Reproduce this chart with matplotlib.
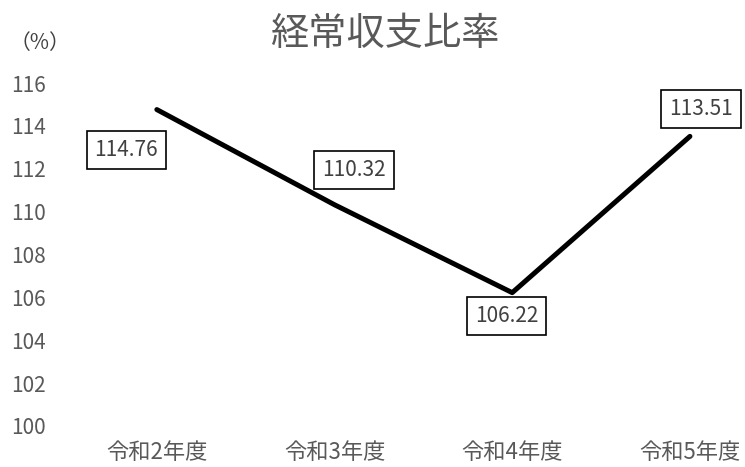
import matplotlib.pyplot as plt

plt.rcParams['font.family'] = ['Noto Sans CJK JP', 'DejaVu Sans']

# data
categories = ['令和2年度', '令和3年度', '令和4年度', '令和5年度']
ratio = [114.76, 110.32, 106.22, 113.51]
# label offsets (points) for each data label
label_offsets = [(-22, -29), (14, 25), (-4, -17), (8, 20)]

GRAY = '#595959'

fig = plt.figure(figsize=(7.45, 4.67), dpi=100)
ax = fig.add_axes([68 / 745, 41 / 467, 677 / 745, 343 / 467])

x = range(len(categories))
ax.plot(x, ratio, color='black', lw=3.6, solid_capstyle='round')

for i, v in enumerate(ratio):
    ax.annotate(f'{v:.2f}', (i, v), xytext=label_offsets[i], textcoords='offset points',
                ha='center', va='center', fontsize=15, color='#404040',
                bbox=dict(boxstyle='square,pad=0.38', fc='white', ec='black', lw=1.2))

ax.set_xlim(-0.5, 3.31)
ax.set_ylim(100, 116)
ax.set_yticks(range(100, 117, 2))
ax.set_xticks(list(x))
ax.set_xticklabels(categories)
ax.tick_params(axis='y', length=0, pad=16, labelsize=15, labelcolor=GRAY)
ax.tick_params(axis='x', length=0, pad=11, labelsize=16, labelcolor=GRAY)
for s in ax.spines.values():
    s.set_visible(False)

fig.text(385 / 745, 1 - 34 / 467, '経常収支比率', ha='center', va='center', fontsize=27.5, color=GRAY)
fig.text(10 / 745, 1 - 43 / 467, '（%）', ha='left', va='center', fontsize=15, color='#404040')

fig.savefig('out.png', dpi=100)
